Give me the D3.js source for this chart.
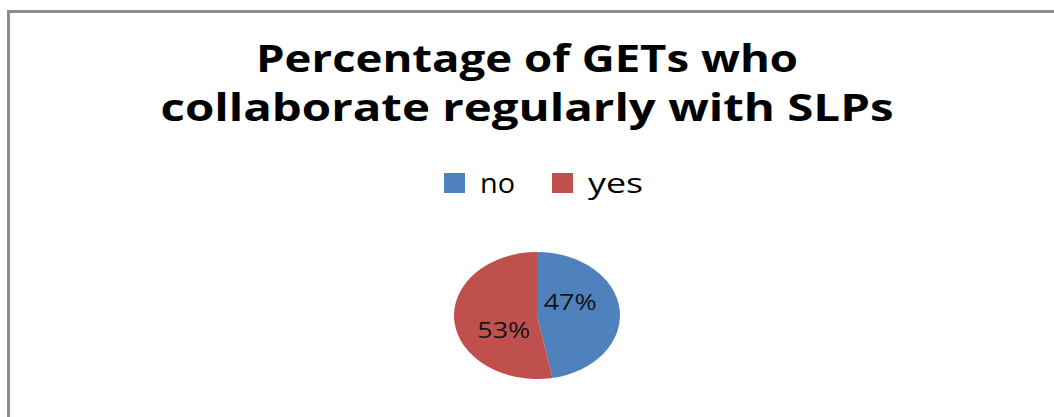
<!doctype html>
<html>
<head>
<script src="https://cdnjs.cloudflare.com/ajax/libs/d3/7.8.5/d3.min.js"></script>
<style>
body { margin: 0; background: #fff; }
text { font-family: "Open Sans", sans-serif; }
.title { font-size: 38px; font-weight: bold; fill: #000; }
.legend text { font-size: 28px; fill: #000; }
.lbl { font-size: 21px; fill: #151515; }
</style>
</head>
<body>
<svg width="1054" height="417"></svg>
<script>
// chart data
var categories = ["no", "yes"];
var values = [47, 53];
var colors = ["#4F81BD", "#C0504D"];
var titleLines = ["Percentage of GETs who", "collaborate regularly with SLPs"];

var svg = d3.select("svg");

// frame (only top and left edges are visible in the crop)
svg.append("rect")
  .attr("x", 8.5).attr("y", 11.5)
  .attr("width", 1200).attr("height", 600)
  .attr("fill", "none")
  .attr("stroke", "#8c8c8c")
  .attr("stroke-width", 3);

// title
var titleWidths = [542, 733];
svg.selectAll("text.title")
  .data(titleLines)
  .enter()
  .append("text")
  .attr("class", "title")
  .attr("x", 527)
  .attr("y", (d, i) => 72 + i * 49)
  .attr("text-anchor", "middle")
  .attr("textLength", (d, i) => titleWidths[i])
  .attr("lengthAdjust", "spacingAndGlyphs")
  .text(d => d);

// legend
var legendX = d3.scaleOrdinal().domain(categories).range([444, 552]);
var legendTextW = { no: 35, yes: 55 };
var lg = svg.append("g").attr("class", "legend")
  .selectAll("g")
  .data(categories)
  .enter()
  .append("g")
  .attr("transform", d => "translate(" + legendX(d) + ",173)");
lg.append("rect")
  .attr("width", 21).attr("height", 20)
  .attr("fill", (d, i) => colors[i]);
lg.append("text")
  .attr("x", (d, i) => i === 0 ? 36 : 36)
  .attr("y", 20)
  .attr("textLength", d => legendTextW[d])
  .attr("lengthAdjust", "spacingAndGlyphs")
  .text(d => d);

// pie (the source image is stretched horizontally)
var r = 63.5, sx = 83 / 63.5;
var pie = d3.pie().sort(null).value(d => d);
var arc = d3.arc().innerRadius(0).outerRadius(r);
var arcs = pie(values);

var g = svg.append("g")
  .attr("transform", "translate(537,315.5) scale(" + sx + ",1)");
g.selectAll("path")
  .data(arcs)
  .enter()
  .append("path")
  .attr("d", arc)
  .attr("fill", (d, i) => colors[i]);

var total = d3.sum(values);
var labelR = 29, turn = -0.41;
svg.append("g")
  .attr("transform", "translate(537,315.5)")
  .selectAll("text")
  .data(arcs)
  .enter()
  .append("text")
  .attr("class", "lbl")
  .attr("text-anchor", "middle")
  .attr("dominant-baseline", "central")
  .attr("textLength", 53)
  .attr("lengthAdjust", "spacingAndGlyphs")
  .attr("x", d => Math.sin((d.startAngle + d.endAngle) / 2 + turn) * labelR * sx)
  .attr("y", d => -Math.cos((d.startAngle + d.endAngle) / 2 + turn) * labelR)
  .text(d => Math.round(d.value / total * 100) + "%");
</script>
</body>
</html>
